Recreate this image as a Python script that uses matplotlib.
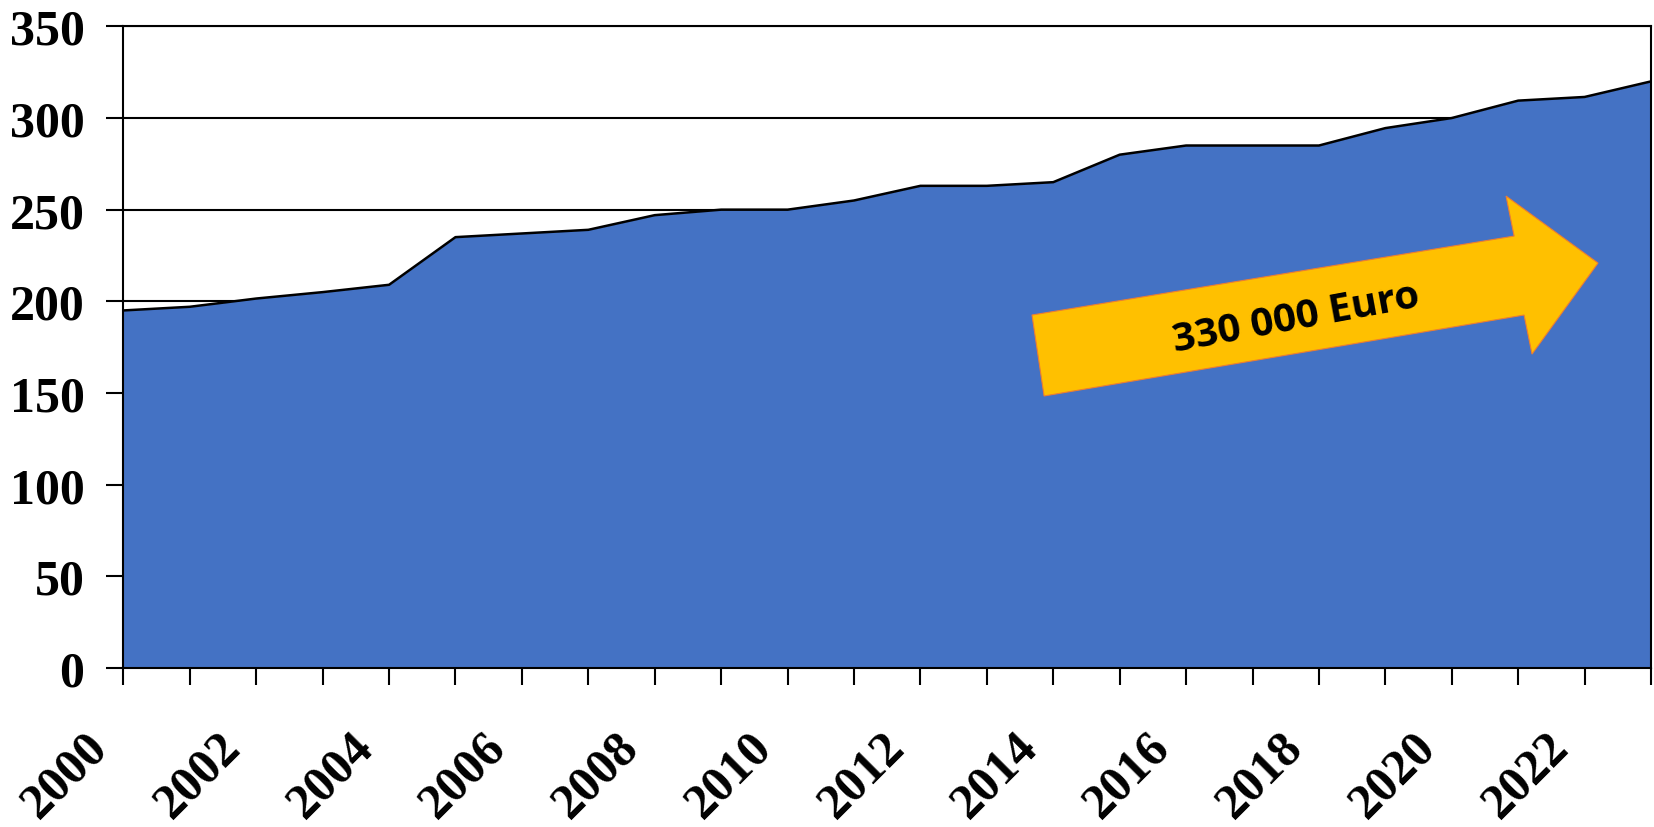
import matplotlib
matplotlib.use("Agg")
import matplotlib.pyplot as plt
from matplotlib.patches import Polygon
from matplotlib.transforms import ScaledTranslation

years = list(range(2000, 2024))
values = [195, 197, 201.5, 205, 209, 235, 237, 239, 247, 250, 250, 255,
          263, 263, 265, 280, 285, 285, 285, 294.5, 300, 309.5, 311.5, 320]
y_ticks = [0, 50, 100, 150, 200, 250, 300, 350]
x_labels = [str(y) if y % 2 == 0 else "" for y in years]
arrow_text = "330 000 Euro"

fig = plt.figure(figsize=(16.54, 8.28), dpi=100)
ax = fig.add_axes([0.0746, 0.1923, 0.9236, 0.7746])

ax.fill_between(years, values, 0, color="#4472C4", zorder=2, linewidth=0)
ax.plot(years, values, color="black", lw=1.8, zorder=3)

ax.set_xlim(years[0], years[-1])
ax.set_ylim(0, 350)
ax.set_yticks(y_ticks)
ax.set_xticks(years)
ax.set_xticklabels(x_labels)
ax.yaxis.grid(True, color="black", lw=1.5)
ax.set_axisbelow(True)

for s in ax.spines.values():
    s.set_color("black")
    s.set_linewidth(1.5)
    s.set_zorder(4)

serif = ["Liberation Serif", "DejaVu Serif"]
ax.tick_params(axis="y", length=12, width=1.5, pad=16, direction="out")
ax.tick_params(axis="x", length=12, width=1.5, pad=40, direction="out")
for lab in ax.get_yticklabels():
    lab.set_fontfamily(serif)
    lab.set_fontweight("bold")
    lab.set_fontsize(36)
offset = ScaledTranslation(-0.23, 0, fig.dpi_scale_trans)
for lab in ax.get_xticklabels():
    lab.set_fontfamily(serif)
    lab.set_fontweight("bold")
    lab.set_fontsize(36)
    lab.set_rotation(45)
    lab.set_rotation_mode("anchor")
    lab.set_ha("right")
    lab.set_va("center")
    lab.set_transform(lab.get_transform() + offset)

arrow_pts = [(0.6027, 0.4238), (0.5948, 0.5500), (0.9104, 0.6731),
             (0.9051, 0.7355), (0.9653, 0.6310), (0.9221, 0.4891),
             (0.9169, 0.5500)]
arrow = Polygon(arrow_pts, closed=True, transform=ax.transAxes,
                facecolor="#FFC000", edgecolor="#ED7D31", lw=0.8, zorder=5)
ax.add_patch(arrow)
ax.text(0.768, 0.545, arrow_text, transform=ax.transAxes, rotation=10.5,
        ha="center", va="center", fontsize=29, fontweight="bold",
        family=["Open Sans", "DejaVu Sans"], color="black", zorder=6)

fig.savefig("out.png", dpi=100)
